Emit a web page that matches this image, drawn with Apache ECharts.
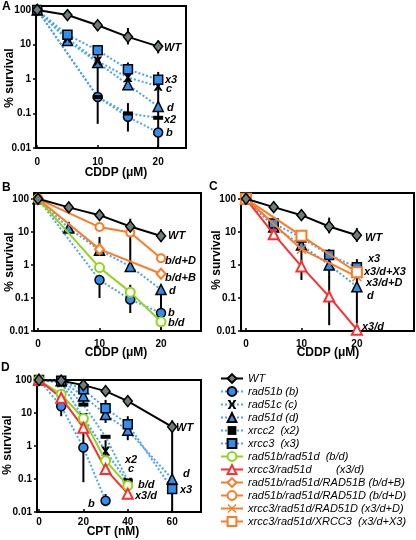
<!DOCTYPE html>
<html><head><meta charset="utf-8">
<script src="https://cdn.jsdelivr.net/npm/echarts@6/dist/echarts.min.js"></script>
<style>html,body{margin:0;padding:0;background:#fff}#c{width:416px;height:540px}</style>
</head><body><div id="c"></div>
<script>
// ---------- data ----------
const xCDDP = [0, 5, 10, 15, 20];
const xCPT = [0, 10, 20, 30, 40, 60];
const yTicks = [0.01, 0.1, 1, 10, 100];
const xTicksCDDP = [0, 10, 20];
const xTicksCPT = [0, 20, 40, 60];

// Panel A (CDDP)
const A_WT = [100, 71, 36, 16.6, 8.8];
const A_b  = [100, null, 0.3, 0.08, 0.028];
const A_c  = [100, 15, 3.3, 1.1, 0.62];
const A_d  = [100, 13, 3, 0.68, 0.16];
const A_x2 = [100, null, 0.3, 0.1, 0.075];
const A_x3 = [100, 19, 6.8, 1.9, 0.95];
const A_err = [[5, 10, 20], [10, 0.05, 5], [15, 10, 30], [15, 0.5, 3], [15, 0.03, 0.2], [20, 5.5, 13], [20, 0.01, 1.6]];

// Panel B (CDDP)
const B_WT  = [100, 55, 32, 14.5, 7.5];
const B_b   = [100, null, 0.35, 0.09, 0.035];
const B_d   = [100, 13, 2.8, 0.9, 0.18];
const B_bd  = [100, null, 0.83, 0.15, 0.019];
const B_bdB = [100, null, 3, null, 0.54];
const B_bdD = [100, null, 14, 9.5, 1.6];
const B_err = [[5, 9, 20], [10, 2, 7], [10, 0.1, 0.5], [15, 0.9, 25], [15, 0.035, 0.25], [20, 5, 12], [20, 0.01, 0.25]];

// Panel C (CDDP)
const C_WT    = [100, 56, 32, 14.5, 7.9];
const C_d     = [100, 14, 4, 1, 0.22];
const C_x3    = [100, 18, 6.7, 2, 0.85];
const C_x3d   = [100, 8.5, 0.9, 0.11, 0.011];
const C_x3dD  = [100, null, 3, null, 0.44];
const C_x3dX3 = [100, null, 7.6, null, 0.6];
const C_err = [[5, 10, 25], [10, 0.35, 7], [15, 9, 27], [15, 0.4, 3], [15, 0.015, 0.45], [20, 5, 13], [20, 0.017, 1.5]];

// Panel D (CPT)
const D_WT  = [100, 95, 70, 46, 23, 3.8];
const D_b   = [100, 16, 0.9, 0.022, null, null];
const D_c   = [100, 83, 7.3, 0.7, 0.08, null];
const D_d   = [100, 95, 33, 9, 3, 0.1];
const D_x2  = [100, 90, 18, 1.9, 0.09, null];
const D_x3  = [100, 95, 52, 14, 4.6, 0.05];
const D_bd  = [100, 37, 6.8, 0.36, 0.063, null];
const D_x3d = [100, 29, 3.6, 0.2, 0.036, null];
const D_err = [[10, 8, 25], [20, 20, 60], [20, 0.08, 10], [30, 5, 25], [30, 0.3, 1.5], [30, 0.015, 0.035], [40, 1.5, 8], [60, 0.01, 6]];

// ---------- styles ----------
const FONT = '"Liberation Sans", Arial, sans-serif';
const BLUE = '#2f8ff0', BLUEL = '#4aa4f8', GREEN = '#8fd61a', RED = '#ff2d2d', ORANGE = '#ff7a21', GRAY = '#6e7d7a';
const XPATH = 'path://M0,0L3,0L5,3.5L7,0L10,0L6.5,5L10,10L7,10L5,6.5L3,10L0,10L3.5,5Z';
const THINX = 'path://M0,1L1,0L5,4L9,0L10,1L6,5L10,9L9,10L5,6L1,10L0,9L4,5Z';
const DASH = 'path://M0,0L10,0L10,4L0,4Z';

const S = {
  WT:    {name: 'WT', symbol: 'diamond', size: [9, 11], color: GRAY, border: '#000', bw: 1.5, line: '#000', type: 'solid', z: 5},
  b:     {name: 'rad51b (b)', symbol: 'circle', size: 9, color: BLUE, border: '#000', bw: 1.5, line: BLUEL, type: 'dotted', z: 3},
  c:     {name: 'rad51c (c)', symbol: XPATH, size: 9, color: '#000', border: '#000', bw: 0, line: BLUEL, type: 'dotted', z: 3},
  d:     {name: 'rad51d (d)', symbol: 'triangle', size: 10, color: BLUE, border: '#000', bw: 1.5, line: BLUEL, type: 'dotted', z: 3},
  x2:    {name: 'xrcc2  (x2)', symbol: DASH, size: 10, keep: true, color: '#000', border: '#000', bw: 0, line: BLUEL, type: 'dotted', z: 3},
  x3:    {name: 'xrcc3  (x3)', symbol: 'rect', size: 9, color: BLUE, border: '#000', bw: 1.5, line: BLUEL, type: 'dotted', z: 3},
  bd:    {name: 'rad51b/rad51d  (b/d)', symbol: 'emptyCircle', size: 9, color: GREEN, line: GREEN, type: 'solid', z: 4},
  x3d:   {name: 'xrcc3/rad51d        (x3/d)', symbol: 'emptyTriangle', size: 10, color: RED, line: RED, type: 'solid', z: 4},
  bdB:   {name: 'rad51b/rad51d/RAD51B (b/d+B)', symbol: 'emptyDiamond', size: [9, 10], color: ORANGE, line: ORANGE, type: 'solid', z: 4},
  bdD:   {name: 'rad51b/rad51d/RAD51D (b/d+D)', symbol: 'emptyCircle', size: 8, color: ORANGE, line: ORANGE, type: 'solid', z: 4},
  x3dD:  {name: 'xrcc3/rad51d/RAD51D (x3/d+D)', symbol: THINX, size: 10, color: ORANGE, border: ORANGE, bw: 0, line: ORANGE, type: 'solid', z: 4},
  x3dX3: {name: 'xrcc3/rad51d/XRCC3  (x3/d+X3)', symbol: 'emptyRect', size: 10, color: ORANGE, line: ORANGE, type: 'solid', z: 4}
};
const legendOrder = ['WT', 'b', 'c', 'd', 'x2', 'x3', 'bd', 'x3d', 'bdB', 'bdD', 'x3dD', 'x3dX3'];

function ser(key, gi, xs, ys) {
  const s = S[key];
  const data = [];
  xs.forEach((x, i) => { if (ys[i] != null) data.push([x, ys[i]]); });
  const item = {color: s.color};
  if (s.border) { item.borderColor = s.border; item.borderWidth = s.bw; }
  return {
    type: 'line', name: s.name, xAxisIndex: gi, yAxisIndex: gi, data,
    symbol: s.symbol, symbolSize: s.size, symbolKeepAspect: !!s.keep, showAllSymbol: true,
    lineStyle: {color: s.line, width: 2, type: s.type}, itemStyle: item,
    z: s.z, animation: false, emphasis: {disabled: true}, silent: true
  };
}
function errSer(gi, arr) {
  return {
    type: 'custom', xAxisIndex: gi, yAxisIndex: gi, data: arr, z: 1, silent: true, animation: false,
    encode: {x: 0, y: [1, 2]},
    renderItem: (p, api) => {
      const a = api.coord([api.value(0), api.value(1)]);
      const b = api.coord([api.value(0), api.value(2)]);
      return {type: 'line', shape: {x1: a[0], y1: a[1], x2: b[0], y2: b[1]}, style: {stroke: '#000', lineWidth: 2}};
    }
  };
}
function xAx(gi, min, max, ticks, margin) {
  return {
    type: 'value', gridIndex: gi, min, max, splitLine: {show: false},
    axisLine: {show: true, onZero: false, lineStyle: {color: '#000', width: 2}},
    axisTick: {show: true, inside: true, length: 3, customValues: ticks, lineStyle: {color: '#000', width: 1.5}},
    axisLabel: {customValues: ticks, margin, color: '#000', fontSize: 10, fontWeight: 'bold', fontFamily: FONT}
  };
}
function yAx(gi, max) {
  return {
    type: 'log', logBase: 10, gridIndex: gi, min: 0.01, max, splitLine: {show: false},
    axisLine: {show: true, onZero: false, lineStyle: {color: '#000', width: 2}},
    axisTick: {show: true, length: 3, customValues: yTicks, lineStyle: {color: '#000', width: 1.5}},
    axisLabel: {customValues: yTicks, margin: 5, color: '#000', fontSize: 10, fontWeight: 'bold', fontFamily: FONT,
      formatter: v => String(Number((+v).toPrecision(2)))}
  };
}
const gridBase = {show: true, borderColor: '#000', borderWidth: 2, containLabel: false, outerBoundsMode: 'none'};

const TB = 'bold 12px ' + FONT;
const TI = 'italic bold 11px ' + FONT;
function txt(text, x, y, font, align, rot) {
  return {type: 'text', x, y, z: 100, rotation: rot || 0, silent: true,
    style: {text, font, fill: '#000', textAlign: align || 'left', textVerticalAlign: 'middle'}};
}
const graphics = [
  txt('A', 2, 7, TB), txt('B', 2, 188, TB), txt('C', 209, 187, TB), txt('D', 1, 368, TB),
  txt('% survival', 10, 78, TB, 'center', Math.PI / 2),
  txt('% survival', 10, 262, TB, 'center', Math.PI / 2),
  txt('% survival', 217, 260, TB, 'center', Math.PI / 2),
  txt('% survival', 8, 445, TB, 'center', Math.PI / 2),
  txt('CDDP (μM)', 116, 173, TB, 'center'),
  txt('CDDP (μM)', 116, 353, TB, 'center'),
  txt('CDDP (μM)', 328, 353, TB, 'center'),
  txt('CPT (nM)', 113, 532, TB, 'center'),
  // panel A annotations
  txt('WT', 164, 48, TI), txt('x3', 165, 80, TI), txt('c', 166, 89, TI),
  txt('d', 167, 108, TI), txt('x2', 164, 120, TI), txt('b', 166, 133, TI),
  // panel B
  txt('WT', 168, 236, TI), txt('b/d+D', 165, 261, TI), txt('b/d+B', 165, 278, TI),
  txt('d', 169, 291, TI), txt('b', 168, 313, TI), txt('b/d', 168, 323, TI),
  // panel C
  txt('WT', 365, 238, TI), txt('x3', 368, 259, TI), txt('x3/d+X3', 364, 272, TI),
  txt('x3/d+D', 366, 283, TI), txt('d', 367, 296, TI), txt('x3/d', 362, 327, TI),
  // panel D
  txt('WT', 176, 428, TI), txt('x2', 125, 460, TI), txt('c', 128, 469, TI),
  txt('b/d', 138, 485, TI), txt('x3/d', 135, 496, TI), txt('b', 88, 504, TI),
  txt('d', 183, 474, TI), txt('x3', 180, 490, TI)
];

const option = {
  backgroundColor: '#fff',
  animation: false,
  grid: [
    Object.assign({left: 36, top: 6, width: 150, height: 142}, gridBase),
    Object.assign({left: 34, top: 193, width: 167, height: 138}, gridBase),
    Object.assign({left: 241, top: 193, width: 173, height: 138}, gridBase),
    Object.assign({left: 37, top: 380, width: 164, height: 132}, gridBase)
  ],
  xAxis: [
    xAx(0, -0.2, 24.6, xTicksCDDP, 9),
    xAx(1, -0.65, 26.5, xTicksCDDP, 8),
    xAx(2, -0.9, 30.3, xTicksCDDP, 8),
    xAx(3, -0.9, 73, xTicksCPT, 5)
  ],
  yAxis: [yAx(0, 130), yAx(1, 150), yAx(2, 150), yAx(3, 100)],
  legend: {
    orient: 'vertical', left: 220, top: 372, padding: 0, itemWidth: 22, itemHeight: 11, itemGap: 0,
    selectedMode: false, data: legendOrder.map(k => S[k].name),
    textStyle: {fontFamily: FONT, fontSize: 11, fontStyle: 'italic', color: '#000', lineHeight: 13}
  },
  graphic: graphics,
  series: [
    errSer(0, A_err),
    ser('b', 0, xCDDP, A_b), ser('x2', 0, xCDDP, A_x2), ser('d', 0, xCDDP, A_d),
    ser('c', 0, xCDDP, A_c), ser('x3', 0, xCDDP, A_x3), ser('WT', 0, xCDDP, A_WT),

    errSer(1, B_err),
    ser('b', 1, xCDDP, B_b), ser('d', 1, xCDDP, B_d), ser('bd', 1, xCDDP, B_bd),
    ser('bdB', 1, xCDDP, B_bdB), ser('bdD', 1, xCDDP, B_bdD), ser('WT', 1, xCDDP, B_WT),

    errSer(2, C_err),
    ser('d', 2, xCDDP, C_d), ser('x3', 2, xCDDP, C_x3), ser('x3d', 2, xCDDP, C_x3d),
    ser('x3dD', 2, xCDDP, C_x3dD), ser('x3dX3', 2, xCDDP, C_x3dX3), ser('WT', 2, xCDDP, C_WT),

    errSer(3, D_err),
    ser('b', 3, xCPT, D_b), ser('x2', 3, xCPT, D_x2), ser('d', 3, xCPT, D_d),
    ser('x3', 3, xCPT, D_x3), ser('c', 3, xCPT, D_c), ser('bd', 3, xCPT, D_bd),
    ser('x3d', 3, xCPT, D_x3d), ser('WT', 3, xCPT, D_WT)
  ]
};
const chart = echarts.init(document.getElementById('c'), null, {renderer: 'canvas'});
chart.setOption(option);
</script>
</body></html>
